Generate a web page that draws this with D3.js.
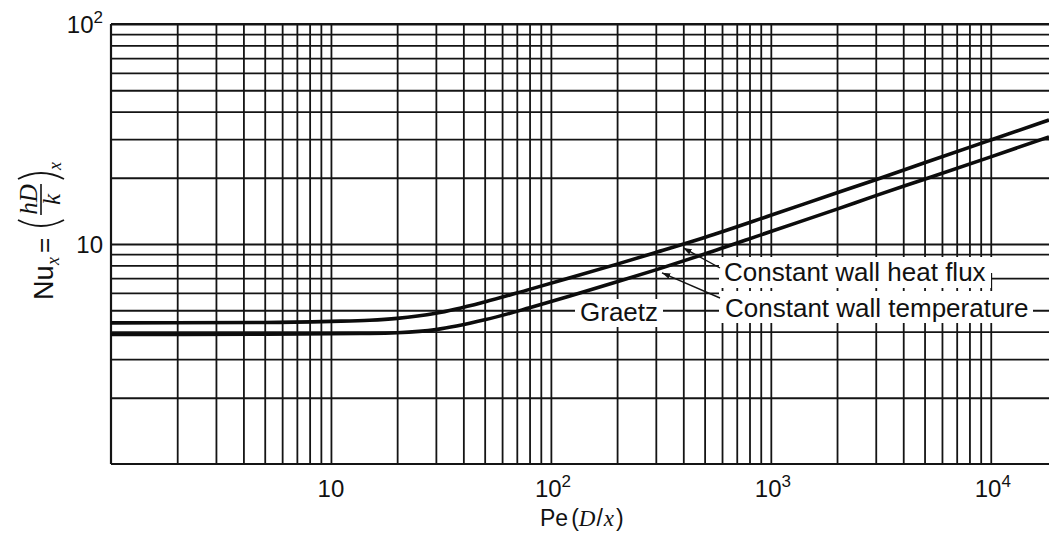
<!DOCTYPE html>
<html>
<head>
<meta charset="utf-8">
<script src="https://cdn.jsdelivr.net/npm/d3@7"></script>
<style>
  html, body { margin: 0; padding: 0; background: #fff; }
  svg { display: block; }
  .sans { font-family: "Liberation Sans", Arial, Helvetica, sans-serif; fill: #111; }
  .serif { font-family: "Liberation Serif", "Times New Roman", serif; font-style: italic; fill: #111; }
</style>
</head>
<body>
<svg id="chart" width="1049" height="533"></svg>
<script>
// ===== Data =====
const peValues   = [1, 5, 10, 15, 20, 30, 50, 80, 120, 200, 300, 500, 1000, 2000, 3000, 5000, 10000, 18400];
const nuHeatFlux = [4.38, 4.40, 4.45, 4.50, 4.59, 4.84, 5.45, 6.22, 6.98, 8.1, 9.15, 10.7, 13.5, 17.1, 19.6, 23.4, 29.7, 36.6];
const nuWallTemp = [3.88, 3.89, 3.91, 3.92, 3.95, 4.08, 4.52, 5.13, 5.77, 6.73, 7.63, 9.0, 11.4, 14.4, 16.6, 19.7, 24.9, 30.7];

const xTickExp = [1, 2, 3, 4];     // 10, 10^2, 10^3, 10^4
const yTickExp = [1, 2];           // 10, 10^2
const mantissas = [1, 2, 3, 4, 5, 6, 7, 8, 9];

// arrow tips of the two leader lines (Pe, Nu)
const leaderTips = [
  { pe: 400, nu: 9.6, from: [720, 268] },
  { pe: 320, nu: 7.4, from: [720, 298] }
];

// ===== Layout =====
const svg = d3.select("#chart");
const plotL = 111, plotR = 1049, plotT = 24, plotB = 464;
const x = d3.scaleLog().domain([1, 18400]).range([plotL, plotR]);
const y = d3.scaleLog().domain([1, 100]).range([plotB, plotT]);
const ink = "#141414";

svg.append("rect").attr("width", 1049).attr("height", 533).attr("fill", "#fff");

// ===== Grid (every 1..9 of each decade) =====
const gridX = [];
[0, 1, 2, 3, 4].forEach(e => mantissas.forEach(m => {
  const v = m * Math.pow(10, e);
  if (v > 1 && v <= 18400) gridX.push(v);
}));
const gridY = [];
[0, 1].forEach(e => mantissas.forEach(m => {
  const v = m * Math.pow(10, e);
  if (v > 1) gridY.push(v);
}));
gridY.push(100);

const gx = svg.append("g")
  .attr("transform", `translate(0,${plotB})`)
  .call(d3.axisBottom(x).tickValues(gridX).tickFormat("").tickSizeInner(-(plotB - plotT)).tickSizeOuter(0));
gx.select(".domain").remove();
gx.selectAll("line").attr("stroke", ink).attr("stroke-width", 1.8);

const gy = svg.append("g")
  .attr("transform", `translate(${plotL},0)`)
  .call(d3.axisLeft(y).tickValues(gridY).tickFormat("").tickSizeInner(-(plotR - plotL)).tickSizeOuter(0));
gy.select(".domain").remove();
gy.selectAll("line").attr("stroke", ink).attr("stroke-width", 1.8);

// frame
svg.append("line").attr("x1", plotL).attr("x2", plotL).attr("y1", plotT).attr("y2", plotB)
  .attr("stroke", ink).attr("stroke-width", 2.2);
svg.append("line").attr("x1", plotL).attr("x2", plotR).attr("y1", plotB).attr("y2", plotB)
  .attr("stroke", ink).attr("stroke-width", 2.2);
svg.append("line").attr("x1", plotL).attr("x2", plotR).attr("y1", plotT).attr("y2", plotT)
  .attr("stroke", ink).attr("stroke-width", 2.2);

// ===== Curves =====
const line = d3.line()
  .curve(d3.curveMonotoneX)
  .x(d => x(d[0]))
  .y(d => y(d[1]));

[nuHeatFlux, nuWallTemp].forEach(series => {
  svg.append("path")
    .datum(peValues.map((p, i) => [p, series[i]]))
    .attr("fill", "none")
    .attr("stroke", "#0c0c0c")
    .attr("stroke-width", 3.6)
    .attr("stroke-linejoin", "round")
    .attr("d", line);
});

// ===== Labels with white boxes over the grid =====
const boxes = [
  [575, 299, 88, 28],    // Graetz
  [719, 257, 272, 31],   // Constant wall heat flux
  [991, 257, 58, 16],
  [719, 291, 314, 32],   // Constant wall temperature
  [1033, 287, 16, 13]
];
boxes.forEach(b => svg.append("rect")
  .attr("x", b[0]).attr("y", b[1]).attr("width", b[2]).attr("height", b[3]).attr("fill", "#fff"));

const labels = [
  ["Graetz", 580, 321],
  ["Constant wall heat flux", 724, 281],
  ["Constant wall temperature", 725, 317]
];
labels.forEach(l => svg.append("text").attr("class", "sans")
  .attr("x", l[1]).attr("y", l[2]).attr("font-size", 26).text(l[0]));

// leader lines with small arrow heads
svg.append("defs").append("marker")
  .attr("id", "arr").attr("viewBox", "0 0 10 10")
  .attr("refX", 10).attr("refY", 5)
  .attr("markerWidth", 6).attr("markerHeight", 6)
  .attr("orient", "auto")
  .append("path").attr("d", "M0,1.5 L10,5 L0,8.5 z").attr("fill", ink);

leaderTips.forEach(t => {
  svg.append("line")
    .attr("x1", t.from[0]).attr("y1", t.from[1])
    .attr("x2", x(t.pe)).attr("y2", y(t.nu))
    .attr("stroke", ink).attr("stroke-width", 1.4)
    .attr("marker-end", "url(#arr)");
});

// ===== Tick labels =====
xTickExp.forEach(e => {
  const t = svg.append("text").attr("class", "sans").attr("font-size", 24).attr("y", 497);
  if (e === 1) {
    t.attr("x", x(10)).attr("text-anchor", "middle").text("10");
  } else {
    t.attr("x", x(Math.pow(10, e)) - 16);
    t.append("tspan").text("10");
    t.append("tspan").attr("font-size", 17).attr("dy", -10).text(String(e));
  }
});

yTickExp.forEach(e => {
  const t = svg.append("text").attr("class", "sans").attr("font-size", 24)
    .attr("x", 103).attr("y", y(Math.pow(10, e)) + 8.6)
    .attr("text-anchor", "end");
  t.append("tspan").text("10");
  if (e > 1) t.append("tspan").attr("font-size", 17).attr("dy", -10).text(String(e));
});

// ===== Axis titles =====
const xt = svg.append("text").attr("x", 540).attr("y", 526).attr("font-size", 23);
xt.append("tspan").attr("class", "sans").text("Pe");
xt.append("tspan").attr("class", "sans").attr("dx", 3).text("(");
xt.append("tspan").attr("class", "serif").text("D");
xt.append("tspan").attr("class", "sans").attr("dx", 1).text("/");
xt.append("tspan").attr("class", "serif").attr("dx", 1).text("x");
xt.append("tspan").attr("class", "sans").attr("dx", 2).text(")");

// Nu_x = (hD/k)_x, rotated
const yt = svg.append("g").attr("transform", "translate(53,300) rotate(-90)");
yt.append("text").attr("class", "sans").attr("font-size", 27).attr("x", 0).attr("y", 0).text("Nu");
yt.append("text").attr("class", "serif").attr("font-size", 18).attr("x", 35).attr("y", 6).text("x");
yt.append("text").attr("class", "sans").attr("font-size", 26).attr("x", 47).attr("y", 0).text("=");
yt.append("path").attr("d", "M80,-35 Q68,-12 80,11").attr("fill", "none").attr("stroke", ink).attr("stroke-width", 1.8);
yt.append("path").attr("d", "M121,-35 Q133,-12 121,11").attr("fill", "none").attr("stroke", ink).attr("stroke-width", 1.8);
yt.append("text").attr("class", "serif").attr("font-size", 25).attr("x", 100.5).attr("y", -16)
  .attr("text-anchor", "middle").text("hD");
yt.append("line").attr("x1", 85).attr("x2", 116).attr("y1", -12).attr("y2", -12)
  .attr("stroke", ink).attr("stroke-width", 1.6);
yt.append("text").attr("class", "serif").attr("font-size", 25).attr("x", 100.5).attr("y", 7)
  .attr("text-anchor", "middle").text("k");
yt.append("text").attr("class", "serif").attr("font-size", 18).attr("x", 130).attr("y", 8).text("x");
</script>
</body>
</html>
